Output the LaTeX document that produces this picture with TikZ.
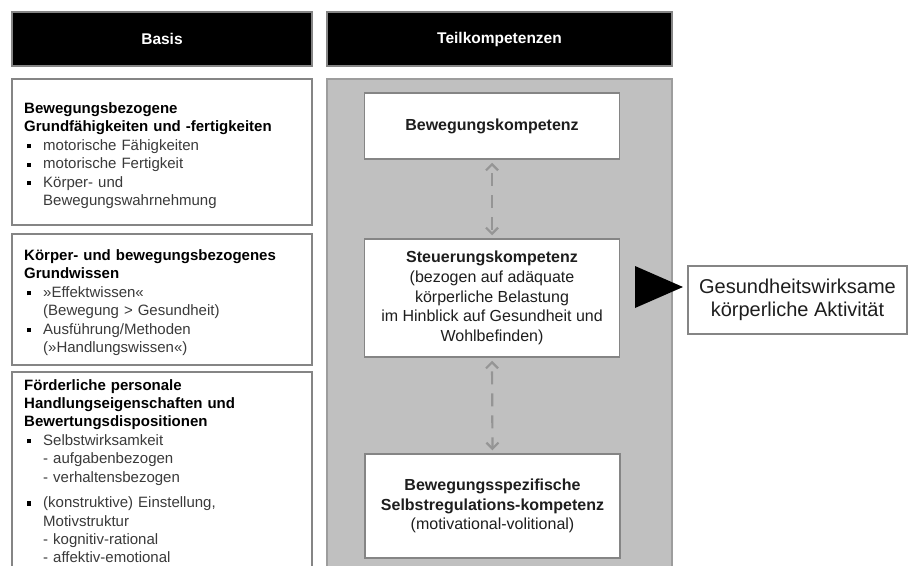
\documentclass[tikz,border=0pt]{standalone}
\usepackage{fontspec}
\setmainfont{Liberation Sans}
\usetikzlibrary{arrows.meta}
\definecolor{panelgray}{HTML}{C0C0C0}
\definecolor{bordergray}{HTML}{858585}
\definecolor{itemgray}{HTML}{3A3A3A}
\definecolor{arrowgray}{HTML}{959595}
\definecolor{textdark}{HTML}{1E1E1E}
\newcommand{\bulsq}{\makebox[19pt][l]{\hspace{3pt}\rule[2pt]{4.2pt}{4.2pt}}}
\newcommand{\indt}{\hspace*{19pt}}
\newcommand{\bitem}[1]{\bulsq\textcolor{itemgray}{#1}}
\newcommand{\cont}[1]{\indt\textcolor{itemgray}{#1}}
\begin{document}
\begin{tikzpicture}[x=1pt,y=-1pt,
  header/.style={draw=bordergray, line width=1.5pt, fill=black, text=white,
    font=\fontsize{15.5}{18}\selectfont\bfseries, minimum height=54pt, inner sep=0pt},
  framebox/.style={draw=bordergray, line width=1.5pt, fill=white, inner sep=0pt},
  lefttext/.style={anchor=north west, inner sep=0pt, align=left, text width=300pt,
    font=\fontsize{15}{18.4}\selectfont},
  comptext/.style={framebox, align=center, text=textdark,
    font=\fontsize{16}{19.7}\selectfont, minimum width=255pt},
  dasharrow/.style={draw=arrowgray, line width=2.2pt, dash pattern=on 13pt off 9pt,
    dash phase=-8pt, shorten <=3pt, shorten >=3pt,
    {Straight Barb[length=6pt,width=12pt]}-{Straight Barb[length=6pt,width=12pt]}}
]
\useasboundingbox (0,0) rectangle (909,565);
\clip (0,0) rectangle (909,565);

% headers
\node[header, minimum width=300pt] (hbasis) at (162,39) {Basis};
\node[header, minimum width=345pt] (hteil) at (499.5,39) {Teilkompetenzen};

% grey panel
\draw[fill=panelgray, draw=bordergray!80, line width=1.5pt] (327,79) rectangle (672,600);

% left boxes
\node[framebox, minimum width=300pt, minimum height=146pt] (b1) at (162,152) {};
\node[framebox, minimum width=300pt, minimum height=131pt] (b2) at (162,299.5) {};
\draw[framebox] (12,600) -- (12,372) -- (312,372) -- (312,600);

\node[lefttext] (t1) at (24,100.5) {\strut\textbf{Bewegungsbezogene}\\
\textbf{Grundfähigkeiten und -fertigkeiten}\\
\bitem{motorische Fähigkeiten}\\
\bitem{motorische Fertigkeit}\\
\bitem{Körper- und}\\
\cont{Bewegungswahrnehmung}};

\node[lefttext] (t2) at (24,247.5) {\strut\textbf{Körper- und bewegungsbezogenes}\\
\textbf{Grundwissen}\\
\bitem{»Effektwissen«}\\
\cont{(Bewegung > Gesundheit)}\\
\bitem{Ausführung/Methoden}\\
\cont{(»Handlungswissen«)}};

\node[lefttext] (t3) at (24,377) {\strut\textbf{Förderliche personale}\\
\textbf{Handlungseigenschaften und}\\
\textbf{Bewertungsdispositionen}\\
\bitem{Selbstwirksamkeit}\\
\cont{- aufgabenbezogen}\\
\cont{- verhaltensbezogen}\\[7.2pt]
\bitem{(konstruktive) Einstellung,}\\
\cont{Motivstruktur}\\
\cont{- kognitiv-rational}\\
\cont{- affektiv-emotional}};

% competence boxes
\node[comptext, minimum height=66pt] (bk) at (492,126) {\textbf{Bewegungskompetenz}};
\node[comptext, minimum height=118pt] (sk) at (492,298) {\textbf{Steuerungskompetenz}\\
(bezogen auf adäquate\\körperliche Belastung\\im Hinblick auf Gesundheit und\\Wohlbefinden)};
\node[comptext, minimum height=104pt] (bs) at (492.5,506) {\textbf{Bewegungsspezifische}\\
\textbf{Selbstregulations-kompetenz}\\(motivational-volitional)};

\draw[dasharrow] (bk.south) -- (sk.north);
\draw[dasharrow] (sk.south) -- (bs.north);

% result
\node[draw=bordergray, line width=1.3pt, fill=white, minimum width=219pt, minimum height=68pt,
  align=center, text=textdark, font=\fontsize{20}{22.5}\selectfont, inner sep=0pt]
  (out) at (797.5,300) {Gesundheitswirksame\\körperliche Aktivität};
\fill[black] (635,266) -- (683,287) -- (635,308) -- cycle;
\end{tikzpicture}
\end{document}
